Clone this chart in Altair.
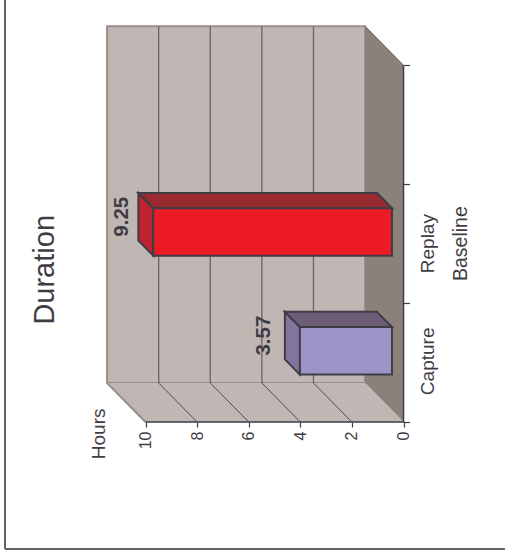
import altair as alt
import pandas as pd

# Chart values
categories = ["Capture", "Replay"]
hours = [3.57, 9.25]
category_slots = [0.5, 1.5]
label_gaps = [0.8, 0.62]
front_colors = ["#9c94c6", "#ed1c24"]
top_colors = ["#6b5e76", "#982a30"]
side_colors = ["#82759c", "#bd2430"]
hour_ticks = [0, 2, 4, 6, 8, 10]
slot_ticks = [0, 1, 2, 3]

# The oblique view: one unit of depth shifts a point in hours and in slots
DEPTH_H = 1.49
DEPTH_C = 0.328
BAR_NEAR, BAR_FAR = 0.3, 0.69
BAR_HALF = 0.2
FONT = "Liberation Sans"
INK = "#3f3d44"

W, H = 505, 556
sx = alt.Scale(domain=[15.64, -3.934], nice=False, zero=False)
sy = alt.Scale(domain=[-1.127, 3.549], nice=False, zero=False)
x_axis = alt.Axis(
    values=hour_ticks, orient="bottom", offset=-134, grid=False, domain=False,
    title=None, labelAngle=-90, labelFont=FONT, labelFontSize=16, labelColor=INK,
    labelPadding=4, tickSize=5, tickColor=INK, labelOverlap=False, labelFlush=False,
)
y_axis = alt.Axis(
    values=slot_ticks, orient="right", offset=-101.5, grid=False, domain=False,
    title=None, labels=False, tickSize=6, tickColor=INK,
)


def X(field="x"):
    return alt.X(f"{field}:Q", scale=sx, axis=x_axis)


def Y(field="y"):
    return alt.Y(f"{field}:Q", scale=sy, axis=y_axis)


def px(h, d=0.0):
    return h + d * DEPTH_H


def py(c, d=0.0):
    return c + d * DEPTH_C


def band_x(h0, h1, c, d):
    """A horizontal-edged face row: constant y, x running between two hours."""
    return {"y": py(c, d), "x": px(h0, d), "x2": px(h1, d)}


def flat(rows, fill, stroke, width):
    return alt.Chart(pd.DataFrame(rows)).mark_area(
        orient="horizontal", fill=fill, stroke=stroke, strokeWidth=width, opacity=1
    ).encode(x=X(), x2="x2:Q", y=alt.Y("y:Q", scale=sy, axis=y_axis))


def upright(rows, fill, stroke, width):
    return alt.Chart(pd.DataFrame(rows)).mark_area(
        orient="vertical", fill=fill, stroke=stroke, strokeWidth=width, opacity=1
    ).encode(x=alt.X("x:Q", scale=sx, axis=x_axis), y=Y(), y2="y2:Q")


def segments(rows, color, width):
    return alt.Chart(pd.DataFrame(rows)).mark_line(
        color=color, strokeWidth=width
    ).encode(x=X(), y=Y(), detail="k:N", order="o:Q")


def label(text, h, c, size=20, bold=False, baseline="middle", color=INK):
    return alt.Chart(pd.DataFrame([{"x": h, "y": c, "t": text}])).mark_text(
        angle=270, align="center", baseline=baseline, font=FONT, fontSize=size,
        fontWeight="bold" if bold else "normal", color=color,
    ).encode(x=X(), y=Y(), text="t:N")


layers = []

# Back wall, side wall and floor of the box
wall = "#c0b6b3"
edge = "#9a8e8a"
layers.append(flat([band_x(0, 10, 0, 1), band_x(0, 10, 3, 1)], wall, edge, 2))
layers.append(upright(
    [{"x": px(0, 1), "y": py(0, 1), "y2": py(3, 1)},
     {"x": px(0, 0), "y": py(0, 0), "y2": py(3, 0)}], "#8c807b", None, 0))
layers.append(flat([band_x(0, 10, 0, 0), band_x(0, 10, 0, 1)], wall, None, 0))
layers.append(segments(
    [{"x": px(10, 1), "y": py(0, 1), "k": "e", "o": 0},
     {"x": px(10, 0), "y": py(0, 0), "k": "e", "o": 1}], edge, 2))

# Gridlines up the wall and across the floor
grid_rows_wall, grid_rows_floor = [], []
for t in hour_ticks[1:-1]:
    grid_rows_wall += [{"x": px(t, 1), "y": py(0, 1), "k": t, "o": 0},
                       {"x": px(t, 1), "y": py(3, 1), "k": t, "o": 1}]
    grid_rows_floor += [{"x": px(t, 0), "y": py(0, 0), "k": t, "o": 0},
                        {"x": px(t, 1), "y": py(0, 1), "k": t, "o": 1}]
layers.append(segments(grid_rows_wall, "#6a6464", 1.3))
layers.append(segments(grid_rows_floor, "#45403f", 0.9))

# Edges of the box at the front plane
layers.append(segments(
    [{"x": px(10), "y": py(0), "k": "a", "o": 0}, {"x": px(0), "y": py(0), "k": "a", "o": 1},
     {"x": px(0), "y": py(3), "k": "a", "o": 2}], INK, 1.5))
layers.append(segments(
    [{"x": px(0, 1), "y": py(3, 1), "k": "b", "o": 0}, {"x": px(0), "y": py(3), "k": "b", "o": 1}],
    "#5e5654", 1))

# Bars: side face, top face, front face, then the value above each
for v, c, gap, fc, tc, sc in zip(hours, category_slots, label_gaps, front_colors, top_colors, side_colors):
    lo, hi = c - BAR_HALF, c + BAR_HALF
    layers.append(upright(
        [{"x": px(v, BAR_FAR), "y": py(lo, BAR_FAR), "y2": py(hi, BAR_FAR)},
         {"x": px(v, BAR_NEAR), "y": py(lo, BAR_NEAR), "y2": py(hi, BAR_NEAR)}], sc, INK, 2))
    layers.append(flat(
        [band_x(0, v, hi, BAR_NEAR), band_x(0, v, hi, BAR_FAR)], tc, INK, 2))
    layers.append(flat(
        [band_x(0, v, lo, BAR_NEAR), band_x(0, v, hi, BAR_NEAR)], fc, INK, 2))
    layers.append(label(f"{v:.2f}", px(v, BAR_FAR) + gap, py(c, BAR_FAR), size=20.5, bold=True))

# Titles and category names
layers.append(label("Duration", 13.9, 1.28, size=29))
layers.append(label("Hours", 11.82, -0.1, size=19))
layers.append(label("Capture", -0.95, 0.51, size=19))
layers.append(label("Replay", -0.95, 1.5, size=19))
layers.append(label("Baseline", -2.23, 1.5, size=19.5))

# Outer frame, open at the top and right
frame = "#666666"
layers.append(alt.Chart(pd.DataFrame({"a": [0]})).mark_rule(color=frame, strokeWidth=2).encode(
    x=alt.value(5), y=alt.value(0), y2=alt.value(549)))
layers.append(alt.Chart(pd.DataFrame({"a": [0]})).mark_rule(color=frame, strokeWidth=2).encode(
    x=alt.value(5), x2=alt.value(505), y=alt.value(549)))

chart = alt.layer(*layers).properties(
    width=W, height=H, padding=0, autosize=alt.AutoSizeParams(type="none"),
).configure_view(stroke=None).configure_axis(tickWidth=1.2)

chart.save("out.html", embed_options={"renderer": "svg", "actions": False})
